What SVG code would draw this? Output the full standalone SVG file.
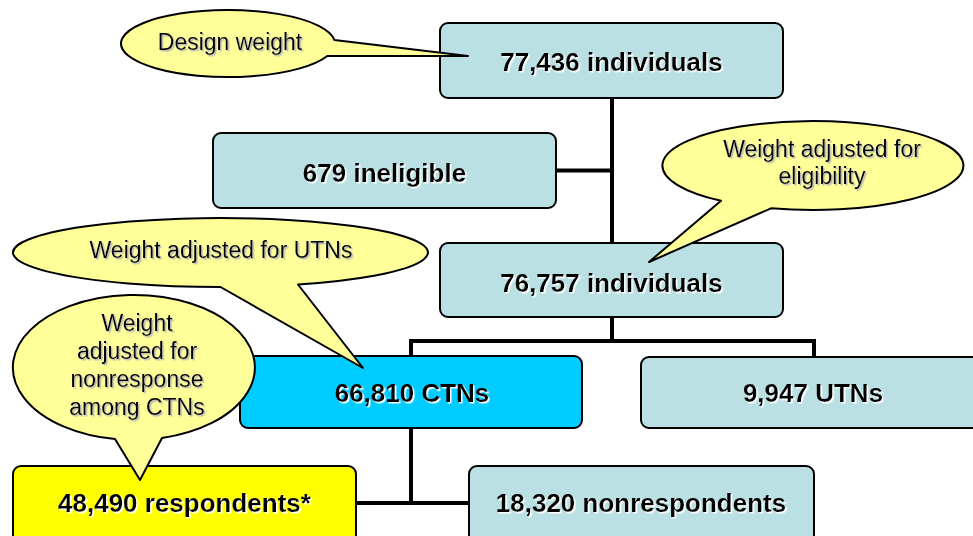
<svg xmlns="http://www.w3.org/2000/svg" width="973" height="536" viewBox="0 0 973 536">
<defs>
<style>
.box{stroke:#000;stroke-width:2}
.gray{fill:#BBE0E3}
.cyan{fill:#00CCFF}
.yel{fill:#FFFF00}
.bt{font-family:"Liberation Sans",Arial,sans-serif;font-weight:bold;font-size:26px;text-anchor:middle;fill:#000;filter:url(#ws)}
.call{fill:#FFFF99;stroke:#000;stroke-width:2;stroke-linejoin:round}
.ct{font-family:"Liberation Sans",Arial,sans-serif;font-size:23px;text-anchor:middle;fill:#000;filter:url(#gs)}
.conn{fill:none;stroke:#000;stroke-width:4}
</style>
<filter id="ws" x="-5%" y="-20%" width="110%" height="140%"><feDropShadow dx="1.5" dy="1.5" stdDeviation="0" flood-color="#ffffff" flood-opacity="1"/></filter>
<filter id="gs" x="-5%" y="-20%" width="110%" height="140%"><feDropShadow dx="1.5" dy="1.5" stdDeviation="0" flood-color="#b8b8b8" flood-opacity="1"/></filter>
</defs>
<rect width="973" height="536" fill="#fff"/>
<g id="connectors">
<path class="conn" d="M612 98 V243"/>
<path class="conn" d="M556 170.5 H612"/>
<path class="conn" d="M612 317 V341 M411 356 V341 H814 V357"/>
<path class="conn" d="M411 428 V503 M356 503 H469"/>
</g>
<g id="n77436"><rect class="box gray" x="440" y="23" width="343" height="75" rx="8"/><text class="bt" x="611.5" y="71">77,436 individuals</text></g>
<g id="n679"><rect class="box gray" x="213" y="133" width="343" height="75" rx="8"/><text class="bt" x="384.5" y="182">679 ineligible</text></g>
<g id="n76757"><rect class="box gray" x="440" y="243" width="343" height="74" rx="8"/><text class="bt" x="611.5" y="292">76,757 individuals</text></g>
<g id="nCTN"><rect class="box cyan" x="240" y="356" width="342" height="72" rx="8"/><text class="bt" x="412" y="402">66,810 CTNs</text></g>
<g id="nUTN"><rect class="box gray" x="641" y="357" width="346" height="71" rx="8"/><text class="bt" x="813" y="402">9,947 UTNs</text></g>
<g id="nResp"><rect class="box yel" x="13" y="466" width="343" height="90" rx="8"/><text class="bt" x="184.5" y="512">48,490 respondents*</text></g>
<g id="nNonresp"><rect class="box gray" x="469" y="466" width="345" height="90" rx="8"/><text class="bt" x="641" y="512">18,320 nonrespondents</text></g>
<g id="cDesign"><path class="call" d="M334.4 40 A107 33.5 0 1 0 327.3 56 L468 56 Z"/><text class="ct" x="230" y="50">Design weight</text></g>
<g id="cElig"><path class="call" d="M771 208.3 A150.5 44.5 0 1 0 721 200.8 L649 262 Z"/><text class="ct" x="822" y="157">Weight adjusted for</text><text class="ct" x="822" y="184">eligibility</text></g>
<g id="cUTN"><path class="call" d="M298 284.5 A207.5 34.5 0 1 0 220.5 287 L363 368 Z"/><text class="ct" x="221" y="258">Weight adjusted for UTNs</text></g>
<g id="cNonresp"><path class="call" d="M162 438 A121 72.5 0 1 0 115 439.1 L140 480 Z"/><text class="ct" x="137" y="331">Weight</text><text class="ct" x="137" y="359">adjusted for</text><text class="ct" x="137" y="387">nonresponse</text><text class="ct" x="137" y="415">among CTNs</text></g>
</svg>
